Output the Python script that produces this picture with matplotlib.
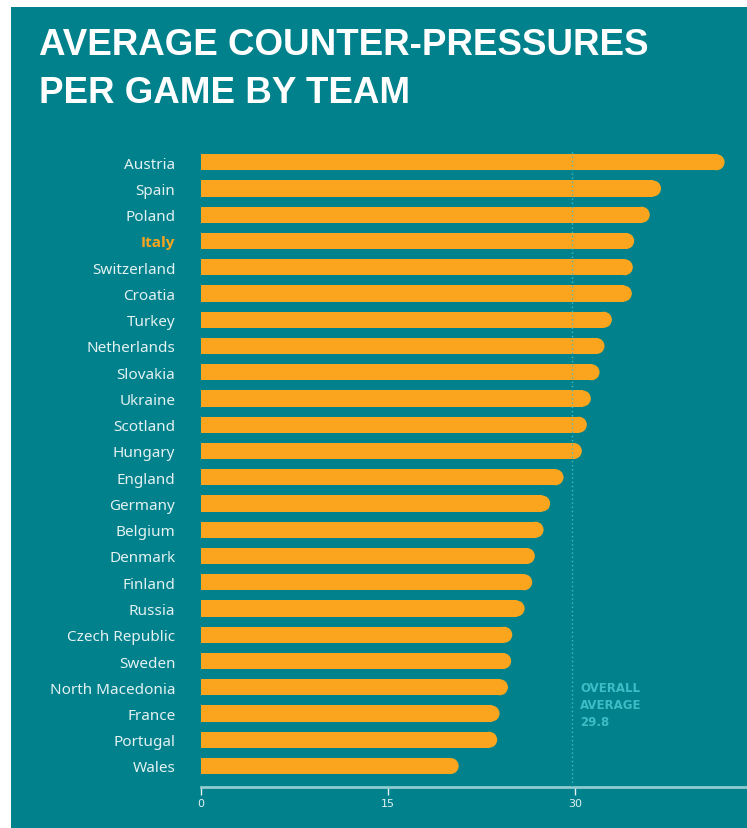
import matplotlib
matplotlib.use("Agg")
import matplotlib.pyplot as plt
from matplotlib.patches import Rectangle

# Counter-pressures per game, sorted high to low
teams = [
    "Austria", "Spain", "Poland", "Italy", "Switzerland", "Croatia", "Turkey",
    "Netherlands", "Slovakia", "Ukraine", "Scotland", "Hungary", "England",
    "Germany", "Belgium", "Denmark", "Finland", "Russia", "Czech Republic",
    "Sweden", "North Macedonia", "France", "Portugal", "Wales",
]
pressures = [
    42.0, 36.9, 36.0, 34.75, 34.64, 34.56, 32.96, 32.37, 31.97, 31.27, 30.95,
    30.55, 29.08, 28.01, 27.48, 26.78, 26.57, 25.96, 24.97, 24.88, 24.62,
    23.95, 23.76, 20.67,
]
overall_avg = 29.8
highlight = "Italy"
xticks = [0, 15, 30]

TEAL = "#00818b"
ORANGE = "#fba51f"
LABEL = "#e3f1f2"
AVG = "#3fbcc6"
AXIS = "#8fcbcf"

W, H = 747, 829
fig = plt.figure(figsize=(W / 100, H / 100), dpi=100, facecolor="white")
fig.patches.append(Rectangle((11 / W, 0), 1 - 11 / W, 1 - 8 / H,
                             transform=fig.transFigure, facecolor=TEAL,
                             edgecolor="none", zorder=-10))

title_font = ["Liberation Sans", "DejaVu Sans"]
fig.text(39 / W, 1 - 55 / H, "AVERAGE COUNTER-PRESSURES", color="white",
         fontsize=26.5, fontweight="bold", family=title_font, va="baseline")
fig.text(39 / W, 1 - 103 / H, "PER GAME BY TEAM", color="white",
         fontsize=26.5, fontweight="bold", family=title_font, va="baseline")

ax = fig.add_axes([201 / W, 1 - 788 / H, 1 - 201 / W, (788 - 137) / H])
ax.set_facecolor("none")
ax.set_xlim(0, 43.8)
ax.set_ylim(23.8, -1.0)

# bar height of 16px; the right end gets a half-circle cap
bar_h = 0.61
cap_r = 8 / 12.47
ys = list(range(len(teams)))
ax.barh(ys, [v - cap_r for v in pressures], height=bar_h, color=ORANGE,
        edgecolor="none", zorder=2)
ax.scatter([v - cap_r for v in pressures], ys, s=(16 * 0.72) ** 2,
           color=ORANGE, edgecolors="none", zorder=2)

ax.plot([overall_avg, overall_avg], [-0.4, 23.8], color=AVG, lw=1,
        linestyle=(0, (1, 2)), zorder=3)
ax.text(overall_avg + 0.6, 19.75, "OVERALL\nAVERAGE\n%.1f" % overall_avg,
        color=AVG, fontsize=8.5, fontweight="bold", va="top", ha="left",
        linespacing=1.4, zorder=3)

ax.set_yticks(ys)
ax.set_yticklabels(teams, family="Noto Sans", fontsize=11)
for lbl, team in zip(ax.get_yticklabels(), teams):
    if team == highlight:
        lbl.set_color(ORANGE)
        lbl.set_family(["Open Sans", "DejaVu Sans"])
        lbl.set_fontweight("bold")
    else:
        lbl.set_color(LABEL)
ax.tick_params(axis="y", length=0, pad=18.5)

ax.set_xticks(xticks)
ax.set_xticklabels([str(t) for t in xticks], fontsize=8, color=LABEL)
ax.tick_params(axis="x", length=6, width=1, color=LABEL, pad=2)

for side in ["top", "right", "left"]:
    ax.spines[side].set_visible(False)
ax.spines["bottom"].set_color(AXIS)
ax.spines["bottom"].set_linewidth(2)

fig.savefig("out.png", dpi=100, facecolor=fig.get_facecolor())
